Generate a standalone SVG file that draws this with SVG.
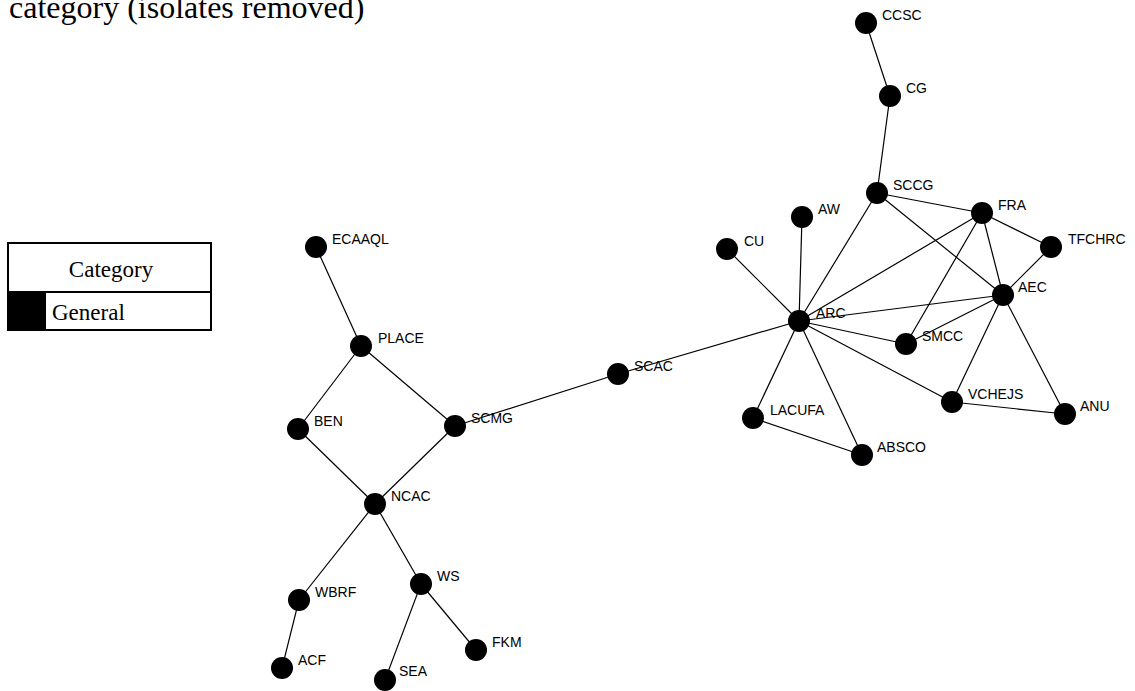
<svg xmlns="http://www.w3.org/2000/svg" width="1135" height="691" viewBox="0 0 1135 691">
<style>
.e line{stroke:#000;stroke-width:1.2}
.n circle{fill:#000}
.n text{font-family:"Liberation Sans",Arial,sans-serif;font-size:14px;fill:#000}
.title{font-family:"Liberation Serif","Times New Roman",serif;font-size:32px;fill:#000}
.leg{font-family:"Liberation Serif","Times New Roman",serif;font-size:23px;fill:#000}
</style>
<rect width="1135" height="691" fill="#fff"/>
<text class="title" x="9" y="18">category (isolates removed)</text>
<g id="legend">
<rect x="8" y="243" width="203" height="87" fill="#fff" stroke="#000" stroke-width="2"/>
<line x1="8" y1="292" x2="211" y2="292" stroke="#000" stroke-width="2"/>
<rect x="8" y="292" width="38" height="38" fill="#000"/>
<text class="leg" x="111" y="277" text-anchor="middle">Category</text>
<text class="leg" x="52" y="320">General</text>
</g>
<g id="edges" class="e">
<line x1="866" y1="23" x2="890" y2="96"/>
<line x1="890" y1="96" x2="877" y2="193"/>
<line x1="877" y1="193" x2="982" y2="213"/>
<line x1="877" y1="193" x2="1003" y2="295"/>
<line x1="877" y1="193" x2="799" y2="321"/>
<line x1="982" y1="213" x2="1051" y2="247"/>
<line x1="982" y1="213" x2="1003" y2="295"/>
<line x1="982" y1="213" x2="799" y2="321"/>
<line x1="982" y1="213" x2="906" y2="344"/>
<line x1="1051" y1="247" x2="1003" y2="295"/>
<line x1="1003" y1="295" x2="799" y2="321"/>
<line x1="1003" y1="295" x2="906" y2="344"/>
<line x1="1003" y1="295" x2="952" y2="402"/>
<line x1="1003" y1="295" x2="1065" y2="414"/>
<line x1="802" y1="217" x2="799" y2="321"/>
<line x1="727" y1="249" x2="799" y2="321"/>
<line x1="799" y1="321" x2="906" y2="344"/>
<line x1="799" y1="321" x2="952" y2="402"/>
<line x1="799" y1="321" x2="753" y2="418"/>
<line x1="799" y1="321" x2="862" y2="455"/>
<line x1="799" y1="321" x2="618" y2="374"/>
<line x1="952" y1="402" x2="1065" y2="414"/>
<line x1="753" y1="418" x2="862" y2="455"/>
<line x1="618" y1="374" x2="455" y2="426"/>
<line x1="316" y1="247" x2="361" y2="346"/>
<line x1="361" y1="346" x2="298" y2="429"/>
<line x1="361" y1="346" x2="455" y2="426"/>
<line x1="298" y1="429" x2="375" y2="504"/>
<line x1="455" y1="426" x2="375" y2="504"/>
<line x1="375" y1="504" x2="299" y2="600"/>
<line x1="375" y1="504" x2="421" y2="584"/>
<line x1="299" y1="600" x2="282" y2="668"/>
<line x1="421" y1="584" x2="385" y2="680"/>
<line x1="421" y1="584" x2="476" y2="650"/>
</g>
<g id="CCSC" class="n"><circle cx="866" cy="23" r="11"/><text x="882" y="20">CCSC</text></g>
<g id="CG" class="n"><circle cx="890" cy="96" r="11"/><text x="906" y="93">CG</text></g>
<g id="SCCG" class="n"><circle cx="877" cy="193" r="11"/><text x="893" y="190">SCCG</text></g>
<g id="AW" class="n"><circle cx="802" cy="217" r="11"/><text x="818" y="214">AW</text></g>
<g id="FRA" class="n"><circle cx="982" cy="213" r="11"/><text x="998" y="210">FRA</text></g>
<g id="TFCHRC" class="n"><circle cx="1051" cy="247" r="11"/><text x="1068" y="244">TFCHRC</text></g>
<g id="CU" class="n"><circle cx="727" cy="249" r="11"/><text x="744" y="246">CU</text></g>
<g id="AEC" class="n"><circle cx="1003" cy="295" r="11"/><text x="1018" y="292">AEC</text></g>
<g id="ARC" class="n"><circle cx="799" cy="321" r="11"/><text x="816" y="318">ARC</text></g>
<g id="SMCC" class="n"><circle cx="906" cy="344" r="11"/><text x="922" y="341">SMCC</text></g>
<g id="SCAC" class="n"><circle cx="618" cy="374" r="11"/><text x="634" y="371">SCAC</text></g>
<g id="VCHEJS" class="n"><circle cx="952" cy="402" r="11"/><text x="968" y="399">VCHEJS</text></g>
<g id="ANU" class="n"><circle cx="1065" cy="414" r="11"/><text x="1080" y="411">ANU</text></g>
<g id="LACUFA" class="n"><circle cx="753" cy="418" r="11"/><text x="770" y="415">LACUFA</text></g>
<g id="ABSCO" class="n"><circle cx="862" cy="455" r="11"/><text x="877" y="452">ABSCO</text></g>
<g id="ECAAQL" class="n"><circle cx="316" cy="247" r="11"/><text x="332" y="244">ECAAQL</text></g>
<g id="PLACE" class="n"><circle cx="361" cy="346" r="11"/><text x="378" y="343">PLACE</text></g>
<g id="BEN" class="n"><circle cx="298" cy="429" r="11"/><text x="314" y="426">BEN</text></g>
<g id="SCMG" class="n"><circle cx="455" cy="426" r="11"/><text x="471" y="423">SCMG</text></g>
<g id="NCAC" class="n"><circle cx="375" cy="504" r="11"/><text x="391" y="501">NCAC</text></g>
<g id="WBRF" class="n"><circle cx="299" cy="600" r="11"/><text x="315" y="597">WBRF</text></g>
<g id="WS" class="n"><circle cx="421" cy="584" r="11"/><text x="437" y="581">WS</text></g>
<g id="FKM" class="n"><circle cx="476" cy="650" r="11"/><text x="492" y="647">FKM</text></g>
<g id="ACF" class="n"><circle cx="282" cy="668" r="11"/><text x="298" y="665">ACF</text></g>
<g id="SEA" class="n"><circle cx="385" cy="680" r="11"/><text x="399" y="676">SEA</text></g>
</svg>
